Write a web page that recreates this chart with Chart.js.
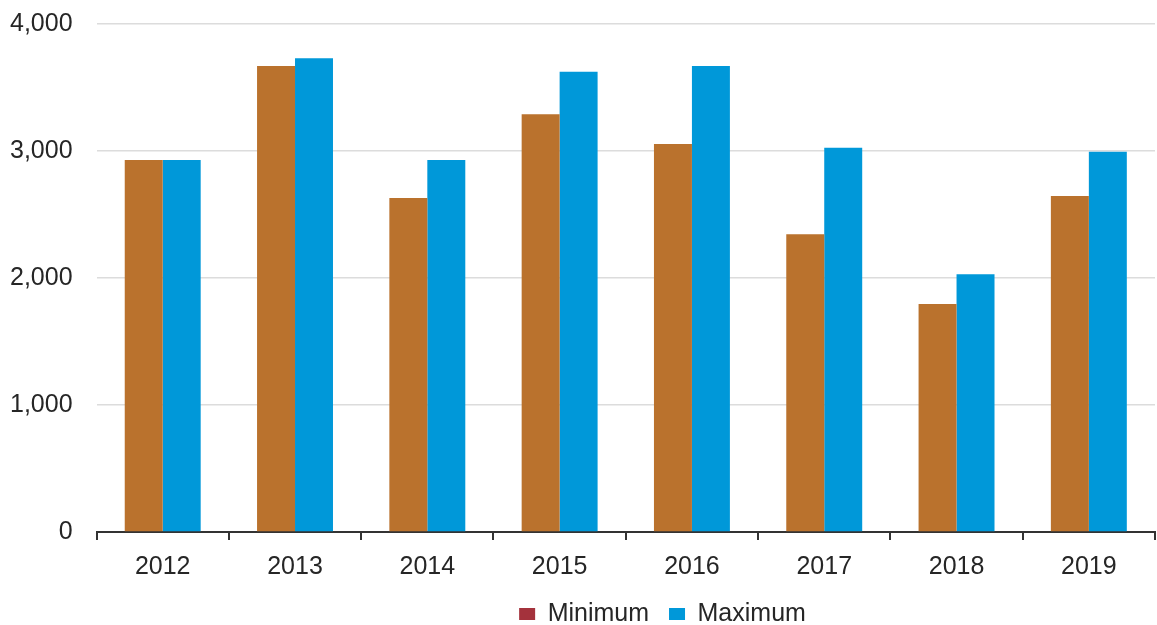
<!DOCTYPE html>
<html>
<head>
<meta charset="utf-8">
<script src="https://cdn.jsdelivr.net/npm/chart.js@4/dist/chart.umd.min.js"></script>
<style>
  html, body { margin: 0; padding: 0; background: #fff; }
  #wrap { width: 1157px; height: 625px; }
</style>
</head>
<body>
<div id="wrap"><canvas id="chart"></canvas></div>
<script>
// ── Data ──────────────────────────────────────────────────────
const years = ['2012', '2013', '2014', '2015', '2016', '2017', '2018', '2019'];
const minimumValues = [2930, 3670, 2630, 3290, 3055, 2345, 1795, 2645];
const maximumValues = [2930, 3730, 2930, 3625, 3670, 3025, 2030, 2995];
const yTicks = [0, 1000, 2000, 3000, 4000];

// ── Colours ───────────────────────────────────────────────────
const brown = '#ba722d';
const blue = '#0098d9';
const legendRed = '#a4323c';
const textColor = '#262626';

Chart.defaults.font.family = '"Liberation Sans", Arial, sans-serif';
Chart.defaults.font.size = 25;
Chart.defaults.color = textColor;

// legend sits a bit right of centre in the original
const legendShift = {
  id: 'legendShift',
  afterLayout(chart) {
    chart.legend.left += 80;
    chart.legend.right += 80;
  }
};

new Chart(document.getElementById('chart'), {
  type: 'bar',
  data: {
    labels: years,
    datasets: [
      { label: 'Minimum', data: minimumValues, backgroundColor: brown },
      { label: 'Maximum', data: maximumValues, backgroundColor: blue }
    ]
  },
  plugins: [legendShift],
  options: {
    responsive: true,
    maintainAspectRatio: false,
    animation: false,
    datasets: { bar: { categoryPercentage: 0.574, barPercentage: 1 } },
    layout: { padding: { left: 10, right: 2, top: 24, bottom: -11.5 } },
    plugins: {
      tooltip: { enabled: false },
      legend: {
        position: 'bottom',
        labels: {
          boxWidth: 16,
          boxHeight: 12,
          padding: 20,
          generateLabels(chart) {
            const items = Chart.defaults.plugins.legend.labels.generateLabels(chart);
            items.forEach(it => {
              it.fillStyle = it.text === 'Minimum' ? legendRed : blue;
              it.strokeStyle = it.fillStyle;
              it.lineWidth = 0;
            });
            return items;
          }
        }
      }
    },
    scales: {
      x: {
        afterFit(scale) { scale.height -= 12.5; },
        grid: {
          display: true,
          offset: true,
          drawOnChartArea: false,
          drawTicks: true,
          tickLength: 8,
          color: '#333',
          lineWidth: 2
        },
        border: { display: true, color: '#333', width: 2 },
        ticks: { padding: 12 }
      },
      y: {
        min: 0,
        max: 4000,
        afterBuildTicks(axis) { axis.ticks = yTicks.map(v => ({ value: v })); },
        grid: { color: '#dcdcdc', lineWidth: 1.5, drawTicks: true, tickLength: 24, tickColor: 'rgba(0,0,0,0)' },
        border: { display: false },
        ticks: { padding: 0 }
      }
    }
  }
});
</script>
</body>
</html>
